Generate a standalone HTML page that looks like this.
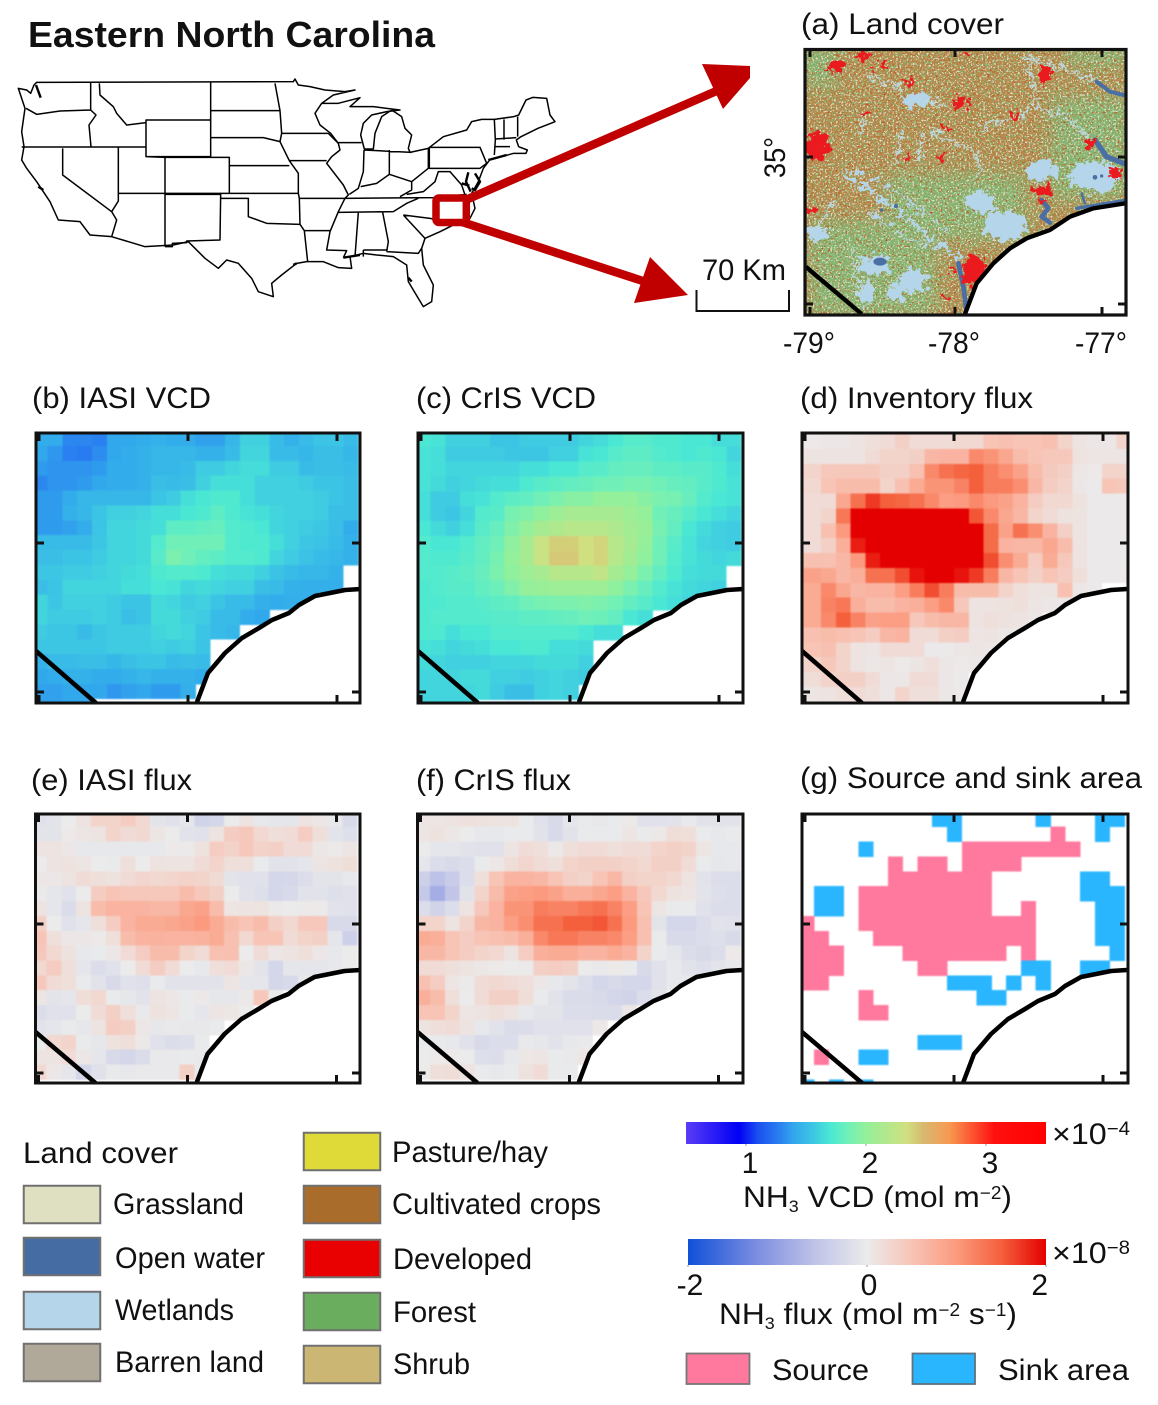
<!DOCTYPE html>
<html lang="en">
<head>
<meta charset="utf-8">
<title>Eastern North Carolina NH3 maps</title>
<style>
html,body{margin:0;padding:0;background:#fff;width:1158px;height:1405px;overflow:hidden}
svg{display:block}
text{font-family:"Liberation Sans",Arial,sans-serif;fill:#111}
.t{font-size:30px}
</style>
</head>
<body>
<svg id="figure" xmlns="http://www.w3.org/2000/svg" width="1158" height="1405" viewBox="0 0 1158 1405">
<defs>
  <filter id="speckGreen" x="0" y="0" width="100%" height="100%" color-interpolation-filters="sRGB">
    <feTurbulence type="fractalNoise" baseFrequency="0.42" numOctaves="2" seed="4"/>
    <feColorMatrix type="matrix" values="0 0 0 0 .50  0 0 0 0 .72  0 0 0 0 .44  10 0 0 0 -5.7"/>
  </filter>
  <filter id="speckPale" x="0" y="0" width="100%" height="100%" color-interpolation-filters="sRGB">
    <feTurbulence type="fractalNoise" baseFrequency="0.55" numOctaves="2" seed="11"/>
    <feColorMatrix type="matrix" values="0 0 0 0 .86  0 0 0 0 .88  0 0 0 0 .78  0 10 0 0 -5.7"/>
  </filter>
  <filter id="speckBrown" x="0" y="0" width="100%" height="100%" color-interpolation-filters="sRGB">
    <feTurbulence type="fractalNoise" baseFrequency="0.42" numOctaves="2" seed="23"/>
    <feColorMatrix type="matrix" values="0 0 0 0 .70  0 0 0 0 .44  0 0 0 0 .20  0 0 10 0 -5.8"/>
  </filter>
  <filter id="speckRed" x="0" y="0" width="100%" height="100%" color-interpolation-filters="sRGB">
    <feTurbulence type="fractalNoise" baseFrequency="0.5" numOctaves="2" seed="37"/>
    <feColorMatrix type="matrix" values="0 0 0 0 .82  0 0 0 0 .22  0 0 0 0 .14  10 0 0 0 -6.9"/>
  </filter>
  <filter id="rough" x="-15%" y="-15%" width="130%" height="130%" color-interpolation-filters="sRGB">
    <feTurbulence type="fractalNoise" baseFrequency="0.05" numOctaves="4" seed="7" result="n"/>
    <feDisplacementMap in="SourceGraphic" in2="n" scale="55" xChannelSelector="R" yChannelSelector="G"/>
  </filter>
  <filter id="soft" x="-20%" y="-20%" width="140%" height="140%" color-interpolation-filters="sRGB"><feGaussianBlur stdDeviation="26"/></filter>
  <filter id="cellBlur" x="-2%" y="-2%" width="104%" height="104%" color-interpolation-filters="sRGB"><feGaussianBlur stdDeviation="0.7"/></filter>
  <clipPath id="clip-a"><rect x="805" y="49" width="321" height="266"/></clipPath>
</defs>

<text x="28" y="47" font-size="36" font-weight="bold" textLength="407" lengthAdjust="spacingAndGlyphs">Eastern North Carolina</text>

<g id="us-map" transform="translate(10 75) scale(0.33333)" fill="none" stroke="#000" stroke-linejoin="round">
  <path vector-effect="non-scaling-stroke" stroke-width="1.5" d="M25,40 L50,45 L62,55 L72,30 L80,22 L850,20 L855,12 L865,30 L900,35 L945,45 L1005,50 L1035,45 L970,60 L935,85 L985,85 L1050,68 L1020,95 L1090,95 L1130,100 L1170,105 L1130,110 L1085,120 L1060,145 L1052,180 L1063,222 L1090,222 L1095,175 L1115,125 L1145,105 L1175,125 L1185,160 L1205,180 L1195,220 L1200,232 L1255,220 L1300,185 L1370,165 L1385,140 L1415,133 L1453,133 L1511,125 L1526,120 L1548,75 L1569,67 L1610,70 L1620,120 L1635,140 L1584,160 L1533,185 L1519,195 L1526,215 L1552,225 L1548,235 L1511,235 L1439,255 L1420,280 L1405,320 L1385,355 L1395,400 L1380,430 L1340,445 L1290,470 L1245,490 L1235,520 L1240,570 L1270,630 L1265,680 L1240,695 L1225,670 L1195,620 L1190,570 L1150,545 L1100,540 L1060,535 L1020,545 L1025,580 L985,578 L940,560 L890,560 L860,565 L815,600 L785,625 L790,665 L745,650 L725,610 L685,565 L650,555 L625,580 L585,550 L535,500 L490,510 L405,515 L305,485 L240,480 L210,440 L145,435 L120,380 L80,320 L50,280 L35,255 L42,215 L35,170 L45,100 Z M935,85 L915,115 L930,150 L962,175 L985,205"/>
  <path vector-effect="non-scaling-stroke" stroke-width="1.5" d="M48,100 L80,118 L150,108 L242,105 M242,22 L242,105 L258,120 L237,150 L243,215 M35,216 L408,216 M268,25 L270,60 L310,95 L320,115 L350,150 L408,143 M408,135 L602,135 L602,245 L408,245 Z M602,22 L602,135 M602,107 L810,107 M602,188 L760,188 L810,200 M795,25 L810,107 L815,175 L810,200 L838,257 L865,295 L865,355 L868,370 M815,175 L955,175 M658,272 L838,272 M602,247 L658,247 L658,355 M465,247 L602,247 M658,355 L865,355 M838,257 L950,257 M325,216 L325,355 L658,355 M408,245 L465,247 L465,515 M158,220 L158,300 L305,410 L325,378 L325,355 M305,410 L320,435 L305,485 M465,358 L632,358 L630,495 L530,498 L530,503 L487,505 L487,515 L465,515 M632,370 L715,370 L715,425 L770,445 L870,448 M868,370 L870,448 L883,467 L960,467 M883,467 L893,560 M868,370 L1005,370 M955,175 L985,205 L990,225 L965,245 L950,265 L1000,330 L1015,360 L1005,370 L985,410 L960,470 L950,525 L1010,527 L1000,548 M985,203 L1055,203 M1062,225 L1060,290 L1045,340 L1018,358 M1062,225 L1205,232 M1138,225 L1138,298 L1100,325 L1052,335 M1255,220 L1255,280 L1205,320 L1138,298 M1005,370 L1270,368 L1370,358 M985,412 L1150,410 L1190,385 L1225,370 M1205,320 L1205,345 L1170,365 M1190,358 L1240,350 L1275,320 L1285,290 L1320,290 L1355,330 L1365,360 M1258,217 L1410,217 L1430,265 L1410,280 L1258,280 Z M1453,133 L1456,195 L1453,240 M1482,133 L1482,195 M1523,125 L1523,185 M1456,192 L1519,188 M1456,215 L1500,215 M1180,420 L1260,430 L1340,445 M1180,420 L1245,490 M1130,530 L1225,535 L1235,520 M1118,412 L1135,500 L1130,530 M1045,412 L1035,545 M1060,525 L1130,525 M1060,525 L1060,545"/>
  <path vector-effect="non-scaling-stroke" stroke-width="2.4" d="M1375,292 L1368,320 L1382,350 M1395,295 L1410,320 L1395,345 L1385,340 M1355,325 L1378,332 M1435,255 L1490,240 M78,30 L92,68 M85,335 L100,345 M1000,548 L1050,540 M860,565 L850,570 M1195,608 L1205,620"/>
</g>

<g id="locator-arrows">
  <line x1="468" y1="199" x2="728" y2="86" stroke="#c00000" stroke-width="8.5"/>
  <polygon points="702,64 750,66 750,78 723,109" fill="#c00000"/>
  <line x1="462" y1="222" x2="652" y2="284" stroke="#c00000" stroke-width="8.5"/>
  <polygon points="650,257 688,295 634,303" fill="#c00000"/>
  <rect x="436" y="198" width="30.3" height="24.5" rx="3" fill="none" stroke="#c00000" stroke-width="7.5"/>
</g>

<text class="t" x="801" y="34" textLength="203" lengthAdjust="spacingAndGlyphs">(a) Land cover</text>
<text class="t" transform="translate(785,178) rotate(-90)" textLength="41" lengthAdjust="spacingAndGlyphs">35°</text>
<text class="t" x="783" y="353" textLength="52" lengthAdjust="spacingAndGlyphs">-79°</text>
<text class="t" x="928" y="353" textLength="52" lengthAdjust="spacingAndGlyphs">-78°</text>
<text class="t" x="1075" y="353" textLength="52" lengthAdjust="spacingAndGlyphs">-77°</text>
<text class="t" x="702" y="280" textLength="84" lengthAdjust="spacingAndGlyphs">70 Km</text>
<path d="M696.5,290 V311 H789 V290" fill="none" stroke="#111" stroke-width="2"/>

<g id="panel-a">
  <g clip-path="url(#clip-a)">
    <rect x="805" y="49" width="321" height="266" fill="#b58a4c"/>
    <g transform="translate(760 0) scale(.33333)">
      <g filter="url(#soft)" fill="#86b572">
        <rect x="120" y="130" width="110" height="130"/>
        <rect x="870" y="290" width="240" height="310"/>
        <rect x="920" y="130" width="190" height="70"/>
        <rect x="150" y="660" width="380" height="290"/>
        <rect x="500" y="520" width="300" height="200"/>
        <rect x="380" y="520" width="120" height="150"/>
      </g>
    </g>
    <rect x="805" y="49" width="321" height="266" filter="url(#speckBrown)"/>
    <rect x="805" y="49" width="321" height="266" filter="url(#speckGreen)"/>
    <rect x="805" y="49" width="321" height="266" filter="url(#speckRed)"/>
    <rect x="805" y="49" width="321" height="266" filter="url(#speckPale)"/>
    <g transform="translate(760 0) scale(.33333)">
      <g fill="#b5d5ea" filter="url(#rough)">
        <ellipse cx="470" cy="300" rx="48" ry="18"/>
        <ellipse cx="845" cy="510" rx="44" ry="32"/>
        <ellipse cx="1005" cy="530" rx="76" ry="46"/>
        <ellipse cx="660" cy="608" rx="44" ry="30"/>
        <ellipse cx="735" cy="678" rx="66" ry="46"/>
        <ellipse cx="460" cy="842" rx="40" ry="36"/>
        <ellipse cx="408" cy="880" rx="26" ry="28"/>
        <ellipse cx="345" cy="795" rx="50" ry="30"/>
        <ellipse cx="172" cy="700" rx="30" ry="20"/>
        <ellipse cx="320" cy="880" rx="20" ry="36"/>
        <path fill="none" stroke="#b5d5ea" stroke-width="14" stroke-dasharray="46 12" d="M255,520 L400,620 L500,705 L610,775"/>
        <path fill="none" stroke="#b5d5ea" stroke-width="8" stroke-dasharray="30 14" d="M290,510 L430,590 L560,700"/>
        <path fill="none" stroke="#b5d5ea" stroke-width="9" stroke-dasharray="34 10" d="M330,640 L450,720 L560,750"/>
      </g>
      <g fill="none" stroke="#bcd8de" stroke-linecap="round" stroke-linejoin="round" filter="url(#rough)">
        <path stroke-width="7" d="M800,170 L830,300 L780,350 L660,380 M830,320 L910,345 L985,410 M510,390 L650,460 L660,530 M420,400 L415,480 M490,400 L480,480 M800,170 L1000,240 M430,270 L330,230 M310,340 L300,400 M230,600 L160,700 M270,730 L300,880 M560,320 L480,300"/>
      </g>
      <g fill="none" stroke="#4a6fa5" stroke-linecap="round" stroke-linejoin="round">
        <path stroke-width="12" d="M1010,245 L1050,275 L1090,285"/>
        <path stroke-width="16" d="M1005,420 L1040,470 L1090,490"/>
        <path stroke-width="14" d="M845,600 L865,625 L845,650 L870,668"/>
        <path stroke-width="14" d="M595,790 L610,860 L620,935"/>
        <path stroke-width="7" d="M965,580 L975,610"/>
        <path stroke-width="10" d="M950,625 L1090,602"/>
      </g>
      <g fill="#4a6fa5">
        <ellipse cx="360" cy="785" rx="20" ry="12"/>
        <circle cx="1005" cy="532" r="7"/>
        <circle cx="1025" cy="528" r="5"/>
        <circle cx="408" cy="618" r="6"/>
        <circle cx="365" cy="630" r="5"/>
      </g>
      <g fill="#ea1a1e" filter="url(#rough)">
        <ellipse cx="172" cy="440" rx="36" ry="44"/>
        <ellipse cx="645" cy="815" rx="40" ry="44"/>
        <ellipse cx="855" cy="222" rx="24" ry="24"/>
        <ellipse cx="600" cy="308" rx="24" ry="18"/>
        <ellipse cx="765" cy="352" rx="16" ry="13"/>
        <ellipse cx="987" cy="430" rx="18" ry="15"/>
        <ellipse cx="848" cy="578" rx="28" ry="22"/>
        <ellipse cx="1067" cy="520" rx="14" ry="13"/>
        <ellipse cx="228" cy="202" rx="20" ry="18"/>
        <ellipse cx="310" cy="165" rx="15" ry="9"/>
        <ellipse cx="372" cy="190" rx="13" ry="9"/>
        <ellipse cx="440" cy="475" rx="12" ry="9"/>
        <ellipse cx="545" cy="475" rx="8" ry="8"/>
        <ellipse cx="315" cy="340" rx="13" ry="8"/>
        <ellipse cx="150" cy="632" rx="9" ry="13"/>
        <ellipse cx="448" cy="245" rx="16" ry="8"/>
        <ellipse cx="620" cy="160" rx="13" ry="8"/>
        <ellipse cx="555" cy="385" rx="8" ry="8"/>
        <ellipse cx="575" cy="810" rx="13" ry="8"/>
        <ellipse cx="345" cy="212" rx="9" ry="9"/>
        <ellipse cx="565" cy="895" rx="8" ry="9"/>
      </g>
    </g>
  </g>
  <g transform="translate(760 0) scale(.33333)">
    <path fill="#fff" d="M615,942 L650,850 L700,790 L750,745 L800,715 L870,690 L930,650 L1000,625 L1095,610 V942 Z"/>
    <path fill="none" stroke="#000" stroke-width="13" stroke-linejoin="round" d="M615,942 L650,850 L700,790 L750,745 L800,715 L870,690 L930,650 L1000,625 L1095,610"/>
    <path fill="none" stroke="#000" stroke-width="13" d="M137,800 L305,942"/>
  </g>
  <rect x="805" y="49.5" width="321" height="265.5" fill="none" stroke="#111" stroke-width="3.2"/>
  <path stroke="#111" stroke-width="3" fill="none" d="M955,49 v8 M1102,49 v8 M955,315 v-8 M1102,315 v-8 M810,49 v8 M810,315 v-8 M805,157 h8 M1126,157 h-8 M805,304 h8 M1126,304 h-8"/>
</g>

<g id="panels"></g>
<g id="legend-land-cover"></g>
<g id="colorbars"></g>

<text class="t" x="32" y="408" textLength="179" lengthAdjust="spacingAndGlyphs">(b) IASI VCD</text>
<text class="t" x="416" y="408" textLength="180" lengthAdjust="spacingAndGlyphs">(c) CrIS VCD</text>
<text class="t" x="800" y="408" textLength="233" lengthAdjust="spacingAndGlyphs">(d) Inventory flux</text>
<text class="t" x="31" y="790" textLength="161" lengthAdjust="spacingAndGlyphs">(e) IASI flux</text>
<text class="t" x="416" y="790" textLength="155" lengthAdjust="spacingAndGlyphs">(f) CrIS flux</text>
<text class="t" x="800" y="788" textLength="342" lengthAdjust="spacingAndGlyphs">(g) Source and sink area</text>

<text class="t" x="1052" y="1144" textLength="78" lengthAdjust="spacingAndGlyphs">×10<tspan dy="-9" font-size="19">−4</tspan></text>
<text class="t" x="743" y="1207" textLength="269" lengthAdjust="spacingAndGlyphs">NH<tspan dy="5" font-size="17">3</tspan><tspan dy="-5"> VCD (mol m</tspan><tspan dy="-8" font-size="18">−2</tspan><tspan dy="8">)</tspan></text>
<text class="t" x="1052" y="1263" textLength="78" lengthAdjust="spacingAndGlyphs">×10<tspan dy="-9" font-size="19">−8</tspan></text>
<text class="t" x="719" y="1324" textLength="298" lengthAdjust="spacingAndGlyphs">NH<tspan dy="5" font-size="17">3</tspan><tspan dy="-5"> flux (mol m</tspan><tspan dy="-8" font-size="18">−2</tspan><tspan dy="8"> s</tspan><tspan dy="-8" font-size="18">−1</tspan><tspan dy="8">)</tspan></text>
<rect x="686.5" y="1353.5" width="63" height="30.5" fill="#ff799f" stroke="#777" stroke-width="1.8"/>
<text class="t" x="772" y="1380" textLength="97" lengthAdjust="spacingAndGlyphs">Source</text>
<rect x="912.5" y="1353.5" width="62.5" height="30.5" fill="#29b6fe" stroke="#5f7280" stroke-width="1.8"/>
<text class="t" x="998" y="1380" textLength="131" lengthAdjust="spacingAndGlyphs">Sink area</text>

<script>
// ---- Data. Columns run west to east, rows north to south; null or a short row means no retrieval (ocean). ----
const iasiVcd = [
[1.42,1.42,1.3,1.3,1.28,1.4,1.4,1.42,1.45,1.42,1.42,1.38,1.38,1.48,1.6,1.6,1.5,1.45,1.5,1.55,1.55,1.5],
[1.4,1.35,1.28,1.26,1.32,1.4,1.42,1.45,1.48,1.48,1.48,1.45,1.45,1.5,1.62,1.62,1.5,1.5,1.48,1.52,1.52,1.48],
[1.36,1.34,1.34,1.34,1.36,1.42,1.42,1.45,1.48,1.48,1.5,1.58,1.58,1.62,1.65,1.65,1.58,1.58,1.5,1.52,1.52,1.5],
[1.3,1.34,1.34,1.36,1.4,1.42,1.42,1.45,1.52,1.5,1.52,1.6,1.66,1.66,1.66,1.6,1.6,1.6,1.58,1.55,1.55,1.52],
[1.36,1.36,1.42,1.48,1.48,1.48,1.48,1.48,1.55,1.58,1.66,1.7,1.72,1.72,1.66,1.6,1.6,1.6,1.6,1.58,1.55,1.52],
[1.36,1.36,1.45,1.48,1.55,1.6,1.6,1.62,1.66,1.66,1.7,1.72,1.78,1.72,1.68,1.66,1.62,1.6,1.6,1.58,1.52,1.52],
[1.36,1.36,1.38,1.42,1.55,1.62,1.62,1.64,1.66,1.78,1.78,1.8,1.82,1.74,1.72,1.7,1.62,1.6,1.58,1.56,1.52,1.42],
[1.5,1.5,1.5,1.5,1.56,1.62,1.62,1.64,1.74,1.85,1.85,1.85,1.85,1.74,1.72,1.72,1.66,1.6,1.56,1.54,1.5,1.45],
[1.52,1.52,1.55,1.55,1.58,1.62,1.62,1.64,1.76,1.9,1.85,1.8,1.78,1.74,1.74,1.72,1.62,1.58,1.54,1.5,1.48,1.45],
[1.56,1.56,1.58,1.58,1.6,1.62,1.64,1.66,1.72,1.74,1.74,1.72,1.66,1.64,1.64,1.6,1.54,1.5,1.48,1.48,1.45,null],
[1.52,1.55,1.62,1.62,1.62,1.62,1.66,1.66,1.7,1.68,1.62,1.64,1.62,1.6,1.6,1.52,1.5,1.45,1.44,1.44,1.44,null],
[1.62,1.56,1.6,1.6,1.6,1.58,1.55,1.55,1.64,1.62,1.58,1.6,1.55,1.5,1.5,1.44,1.42,1.44,1.44],
[1.62,1.58,1.58,1.58,1.6,1.58,1.52,1.55,1.64,1.64,1.6,1.58,1.5,1.5,1.42,1.4,null],
[1.58,1.56,1.56,1.5,1.56,1.58,1.58,1.58,1.62,1.64,1.62,1.55,1.5,1.48,null],
[1.56,1.56,1.56,1.56,1.56,1.58,1.58,1.58,1.6,1.58,1.6,1.55,null],
[1.45,1.5,1.5,1.52,1.52,1.48,1.52,1.55,1.55,1.5,1.52,1.5,null],
[1.4,1.42,1.45,1.45,1.42,1.42,1.45,1.48,1.45,1.45,1.45,1.42,null],
[1.38,1.38,1.4,1.4,1.4,1.35,1.38,1.4,1.36,1.36,1.44,null],
[1.38,1.38,1.4,1.4]
];
const crisVcd = [
[1.7,1.68,1.6,1.6,1.6,1.55,1.55,1.58,1.58,1.58,1.58,1.62,1.65,1.7,1.75,1.75,1.72,1.72,1.7,1.7,1.65,1.65],
[1.68,1.66,1.58,1.58,1.58,1.58,1.56,1.56,1.56,1.6,1.6,1.68,1.7,1.75,1.78,1.78,1.74,1.72,1.7,1.72,1.7,1.62],
[1.68,1.66,1.62,1.62,1.62,1.62,1.62,1.66,1.66,1.7,1.7,1.75,1.76,1.8,1.82,1.82,1.78,1.78,1.76,1.76,1.72,1.66],
[1.68,1.64,1.6,1.62,1.64,1.66,1.66,1.72,1.76,1.78,1.8,1.82,1.85,1.85,1.88,1.88,1.85,1.82,1.8,1.76,1.72,1.68],
[1.66,1.58,1.58,1.66,1.68,1.74,1.78,1.8,1.85,1.9,1.95,1.95,2.0,2.0,2.0,1.95,1.9,1.88,1.82,1.74,1.7,1.68],
[1.66,1.58,1.56,1.62,1.74,1.76,1.88,1.92,1.98,2.05,2.1,2.1,2.1,2.1,2.05,2.0,1.85,1.82,1.76,1.7,1.66,1.62],
[1.7,1.64,1.6,1.66,1.76,1.82,1.92,2.0,2.1,2.15,2.2,2.2,2.2,2.15,2.08,2.02,1.88,1.8,1.7,1.64,1.6,1.58],
[1.74,1.7,1.7,1.74,1.8,1.85,1.98,2.1,2.3,2.4,2.4,2.34,2.38,2.2,2.1,2.0,1.85,1.76,1.68,1.62,1.6,1.58],
[1.74,1.72,1.72,1.76,1.8,1.88,2.0,2.1,2.3,2.42,2.42,2.34,2.38,2.2,2.08,1.98,1.85,1.74,1.68,1.64,1.62,1.64],
[1.74,1.74,1.76,1.78,1.82,1.9,1.98,2.05,2.1,2.2,2.2,2.2,2.25,2.1,2.0,1.9,1.8,1.72,1.66,1.64,1.64,null],
[1.72,1.74,1.76,1.76,1.8,1.84,1.92,2.0,2.02,2.05,2.05,2.05,2.05,1.98,1.9,1.82,1.74,1.68,1.64,1.62,1.6,null],
[1.72,1.72,1.74,1.74,1.76,1.78,1.8,1.85,1.88,1.9,1.9,1.92,1.9,1.86,1.8,1.76,1.7,1.66,1.62],
[1.72,1.74,1.74,1.74,1.74,1.76,1.76,1.78,1.78,1.8,1.82,1.85,1.84,1.8,1.7,1.66,null],
[1.72,1.72,1.66,1.7,1.7,1.74,1.74,1.74,1.74,1.74,1.74,1.7,1.66,1.66,null],
[1.68,1.66,1.62,1.64,1.66,1.7,1.7,1.72,1.72,1.66,1.66,1.64,null],
[1.64,1.62,1.6,1.6,1.6,1.62,1.62,1.62,1.64,1.64,1.64,1.6,null],
[1.62,1.62,1.62,1.64,1.64,1.6,1.6,1.58,1.6,1.62,1.6,1.58,null],
[1.62,1.62,1.62,1.62,1.64,1.58,1.52,1.52,1.6,1.62,1.6,null],
[1.62,1.62,1.62,1.62]
];
const inventoryFlux = [
[.03,.05,.05,.1,.15,.2,.35,.2,.2,.2,.25,.25,.5,.55,.5,.5,.55,.3,.1,.05,.05,.3],
[.1,.1,.1,.1,.2,.3,.3,.35,.65,.7,.7,1.15,1.05,.85,.6,.5,.45,.45,.12,.08,.08,.08],
[.3,.45,.45,.45,.45,.35,.35,.55,1.15,1.35,1.45,1.5,1.25,1.1,.9,.6,.42,.35,.06,.03,.3,.3],
[.25,.5,.6,.6,.6,.3,.55,.8,1.05,1.05,1.2,1.5,1.25,1.25,1.1,.65,.4,.3,.05,.02,.5,.45],
[.2,.2,.85,1.35,1.7,1.5,1.45,1.35,1.15,.95,1.0,1.15,1.0,.9,.7,.4,.25,.25,.12,.02,.02,.03],
[.2,.3,1.3,2,2,2,2,2,2,2,2,1.55,1.15,.85,.65,.3,.2,.12,.1,.02,.02,.03],
[.2,.55,1.0,2,2,2,2,2,2,2,2,2,1.4,.9,1.35,1.1,.7,.35,.1,.02,.02,.03],
[.2,.35,.75,1.85,2,2,2,2,2,2,2,2,1.4,.7,.65,.65,.85,.6,.1,.02,.02,.02],
[.55,.55,.65,1.0,1.85,2,2,2,2,2,2,2,1.6,1.1,.8,.4,.8,.45,.1,.02,.02,.02],
[.9,.85,.65,.75,1.35,1.35,1.6,1.9,2,2,1.9,1.7,1.25,.65,.5,.35,.5,.4,.15,.02,.02,.03],
[.8,1.15,.85,.65,.7,.7,.95,1.25,1.6,1.25,.6,.6,.6,.3,.15,.1,.1,.55,.05,.02],
[.8,1.2,1.3,.75,.6,.6,.7,.75,.95,1.15,.45,.1,.1,.12,.15,.08,.05,.05],
[.8,1.15,1.5,1.2,.9,.95,.95,.45,.6,.65,.65,.1,.15,.12,.1,.05],
[.55,.6,.55,.5,.4,.65,.7,.2,.2,.35,.4,.08,.1,.05,.03],
[.5,.55,.3,.1,.08,.2,.2,.2,.02,.02,.05,.08,.05],
[.3,.45,.3,.1,.05,.08,.03,.08,.15,.05,.03,.05],
[.18,.3,.35,.35,.2,.05,.05,.2,.2,.05,.02],
[.08,.1,.15,.2,.15,.05,.3,.15,.15,.05,.03]
];
const iasiFlux = [
[-.15,-.1,0,.1,.3,.3,.4,.25,-.1,-.15,-.08,-.35,-.3,0,.1,-.05,-.08,-.08,.1,.05,-.05,-.25],
[-.1,-.1,.03,.08,.1,.3,.2,.25,.08,0,-.12,-.15,.1,.4,.45,.25,.15,.2,.4,.15,-.1,-.18],
[.1,.1,.05,-.05,-.05,-.05,-.05,-.05,-.05,.03,.02,.12,.4,.32,.45,.32,.35,.2,.2,.05,.02,.08],
[0,.1,.12,.08,0,-.02,.15,0,.12,.1,.1,.2,.3,.15,.15,-.02,-.12,-.12,-.08,.08,.12,.18],
[.05,.05,.1,.2,.15,.12,.2,.28,.25,.28,.32,.3,.22,-.1,-.15,-.15,-.3,-.28,-.2,-.1,-.1,-.05],
[.02,-.08,-.15,0,.4,.5,.45,.45,.45,.45,.6,.45,.35,0,-.12,-.18,-.3,-.25,-.12,-.12,-.18,-.15],
[.1,-.08,-.22,.1,.6,.7,.7,.7,.65,.65,.85,.9,.6,.08,.1,.1,.02,0,.02,.03,-.12,-.15],
[.35,0,-.15,-.08,.15,.4,.7,.8,.8,.85,.9,1.0,.8,.6,.5,.6,.35,.25,.45,.45,-.25,-.25],
[.5,.15,.05,.05,.03,.15,.6,.7,.72,.7,.7,.72,.8,.55,.25,.5,.5,.2,.3,.35,-.08,-.4],
[.45,.25,.12,-.05,-.02,.05,.2,.4,.6,.6,.3,.2,.55,.55,0,.2,.05,.1,.15,.05,-.05,0],
[.25,.4,.15,-.08,-.2,-.15,0,.2,.4,.2,0,-.05,.15,.2,.05,-.1,-.3,-.08,-.08,-.08,-.05,0],
[.45,.2,.15,-.02,-.12,-.25,-.15,-.18,-.02,-.12,-.12,-.12,-.12,.08,-.08,-.08,-.3,-.25,-.05],
[.08,-.1,-.08,.18,.25,-.02,-.06,-.12,.1,.05,-.02,.04,-.06,-.06,.04,.45,0],
[-.2,-.15,-.15,0,.2,.35,.15,-.03,.12,.08,-.02,-.08,.08,.06,0],
[-.12,-.08,-.02,-.06,.1,.4,.35,.05,-.06,-.03,-.04,-.04,-.02],
[-.02,.25,.3,-.02,-.06,.12,.15,.04,-.15,-.2,-.18,-.02],
[.1,.1,.2,.05,-.08,-.25,-.3,-.22,-.03,-.03,-.02,-.03],
[.25,.05,-.08,-.3,-.15,-.03,-.05,-.03,-.03,-.03,.35,-.02]
];
const crisFlux = [
[.08,.08,.1,.14,.12,.1,.1,-.02,-.15,-.25,-.08,-.02,-.04,-.02,.03,-.14,-.15,-.12,-.03,-.12,-.12,-.12],
[.08,.12,.05,0,-.05,-.05,-.02,-.02,-.12,-.25,-.12,-.02,-.02,-.02,.08,-.02,.04,.18,.15,-.02,-.05,-.02],
[0,-.08,-.08,-.12,-.15,-.15,.08,.2,.15,.04,.15,.2,.2,.15,.2,.2,.3,.35,.3,.08,-.05,-.05],
[-.08,-.2,-.25,-.2,-.02,.05,.18,.28,.2,.15,.3,.35,.35,.35,.3,.25,.35,.35,.2,-.02,-.06,-.05],
[-.4,-.6,-.45,-.2,.15,.5,.7,.7,.65,.5,.35,.3,.5,.65,.35,.3,.3,.25,.1,-.12,-.2,-.2],
[-.5,-.85,-.55,-.12,.3,.6,.9,.95,1.0,.9,.75,.75,.85,.95,.7,.45,.25,.12,.08,-.1,-.18,-.2],
[-.2,-.35,-.2,.1,.45,.7,1.05,1.05,1.25,1.2,1.2,1.3,1.35,1.2,.95,.5,.08,-.02,-.02,-.15,-.2,-.2],
[.3,.3,.1,.3,.65,.7,.95,1.1,1.35,1.35,1.5,1.5,1.55,1.35,1.0,.55,-.1,-.3,-.3,-.2,-.12,-.15],
[.8,.75,.5,.4,.5,.55,.6,.75,1.15,1.3,1.3,1.2,1.2,1.15,.95,.55,-.02,-.25,-.25,-.2,-.18,-.25],
[.65,.65,.5,.4,.3,.25,.1,.4,.75,.8,.8,.7,.7,.8,.7,.3,-.02,-.08,-.2,-.25,-.2,.03],
[.2,.2,.15,.1,.05,.03,0,.02,.35,.4,.35,0,-.03,.03,-.02,-.25,-.15,-.05,-.12,-.18,-.1,-.05],
[.55,.4,.08,.02,.2,.25,.2,.15,.05,-.05,-.1,-.2,-.3,-.25,-.3,-.3,-.15,-.05,-.05],
[.75,.6,.15,0,.2,.35,.35,.18,-.02,-.12,-.22,-.22,-.25,-.32,-.35,-.2,-.1],
[.5,.5,.3,.08,.1,.15,.1,-.05,-.1,-.1,-.2,-.2,-.22,-.22,.05],
[.1,.15,.2,.1,-.05,-.12,-.22,-.2,-.15,-.15,-.15,-.15,.04],
[-.02,-.02,-.05,-.15,-.25,-.2,-.2,-.03,-.06,-.12,-.05,-.03],
[0,.03,.03,0,-.18,-.2,-.05,.06,.08,-.02,-.03,.08],
[0,.15,.18,.1,-.02,-.05,-.02,.12,.2,-.02,-.02]
];
// 1 = source, -1 = sink, 0 = neither
const sourceSinkClass = [
[0,0,0,0,0,0,0,0,0,-1,-1,0,0,0,0,0,-1,0,0,0,-1,-1],
[0,0,0,0,0,0,0,0,0,0,-1,0,0,0,0,0,0,1,0,0,-1,0],
[0,0,0,0,-1,0,0,0,0,0,0,1,1,1,1,1,1,1,1,0,0,0],
[0,0,0,0,0,0,1,0,1,1,0,1,1,1,1,0,0,0,0,0,0,0],
[0,0,0,0,0,0,1,1,1,1,1,1,1,0,0,0,0,0,0,-1,-1,0],
[0,-1,-1,0,1,1,1,1,1,1,1,1,1,0,0,0,0,0,0,-1,-1,-1],
[0,-1,-1,0,1,1,1,1,1,1,1,1,1,0,0,1,0,0,0,0,-1,-1],
[1,0,0,0,1,1,1,1,1,1,1,1,1,1,1,1,0,0,0,0,-1,-1],
[1,1,0,0,0,1,1,1,1,1,1,1,1,1,1,1,0,0,0,0,-1,-1],
[1,1,1,0,0,0,0,1,1,1,1,1,1,1,0,1,0,0,0,0,0,-1],
[1,1,1,0,0,0,0,0,1,1,0,0,0,0,0,-1,-1,0,0,-1,-1,0],
[1,1,0,0,0,0,0,0,0,0,-1,-1,-1,0,-1,0,-1,0,0,0,0,0],
[0,0,0,0,1,0,0,0,0,0,0,0,-1,-1,0,0,0,0,0,0,0,0],
[0,0,0,0,1,1,0,0,0,0,0,0,0,0,0,0,0,0,0,0,0,0],
[0,0,0,0,0,0,0,0,0,0,0,0,0,0,0,0,0,0,0,0,0,0],
[0,0,0,0,0,0,0,0,-1,-1,-1,0,0,0,0,0,0,0,0,0,0,0],
[0,1,0,0,-1,-1,0,0,0,0,0,0,0,0,0,0,0,0,0,0,0,0],
[0,0,0,0,0,0,0,0,0,0,0,0,0,0,0,0,0,0,0,0,0,0],
[-1,0,-1,0,-1,0,0,0,0,0,0,0,0,0,0,0,0,0,0,0,0,0]
];
const vcdTickValues = [1, 2, 3];
const vcdTickLabels = ["1", "2", "3"];
const fluxTickValues = [-2, 0, 2];
const fluxTickLabels = ["-2", "0", "2"];
const landCoverClasses = ["Grassland","Open water","Wetlands","Barren land","Pasture/hay","Cultivated crops","Developed","Forest","Shrub"];

// ---- Colour scales ----
const vcdDomain = [0.5, 3.5];
const vcdStopValues = [0.5, 0.94, 1.1, 1.28, 1.4, 1.55, 1.7, 1.85, 2.0, 2.34, 2.48, 2.7, 3.07, 3.5];
const vcdStopColors = ["#5a3cf5","#0000f5","#1a50f0","#2a80f0","#32a8ec","#3cc4e4","#4ae8d4","#70f0b8","#94f09a","#d0e080","#d8b870","#f89850","#ff1010","#ff0000"];
const fluxDomain = [-2, 2];
const fluxStopValues = [-2, -1.2, -0.57, 0, 0.5, 1, 1.5, 2];
const fluxStopColors = ["#1050d8","#8090e0","#c0c4e8","#ebebeb","#f7c4b6","#fb9a7e","#f4603c","#e40000"];

const SVGNS = "http://www.w3.org/2000/svg";
function hexToRgb(h){return [1,3,5].map(i=>parseInt(h.substr(i,2),16));}
function colorScale(values, colors){
  return function(v){
    if (v <= values[0]) return colors[0];
    for (let i = 1; i < values.length; i++){
      if (v <= values[i]){
        const t = (v - values[i-1]) / (values[i] - values[i-1]);
        const a = hexToRgb(colors[i-1]), b = hexToRgb(colors[i]);
        return "rgb(" + a.map((c,k)=>Math.round(c + (b[k]-c)*t)).join(",") + ")";
      }
    }
    return colors[colors.length-1];
  };
}
const vcdColor = colorScale(vcdStopValues, vcdStopColors);
const fluxColor = colorScale(fluxStopValues, fluxStopColors);
function classColor(v){ return v > 0 ? "#ff799f" : v < 0 ? "#29b6fe" : null; }

// ---- Panels ----
const CELL_W = 14.78, CELL_H = 14.87;
const coastFractions = [[161,269],[172,240],[178,233],[189,220],[206,205],[223,195],[236,187],[253,180],[263,172],[279,163],[309,157],[325,156]];
const panels = [
  {id:"iasi-vcd", grid:iasiVcd, color:vcdColor, left:36, top:433, right:360, bottom:703, firstX:47.67, firstY:446},
  {id:"cris-vcd", grid:crisVcd, color:vcdColor, left:418, top:433, right:743, bottom:703, firstX:430.67, firstY:446.67},
  {id:"inventory-flux", grid:inventoryFlux, color:fluxColor, left:802, top:433, right:1128, bottom:703, firstX:821, firstY:449},
  {id:"iasi-flux", grid:iasiFlux, color:fluxColor, left:35.5, top:814, right:360, bottom:1083, firstX:46.67, firstY:826.67},
  {id:"cris-flux", grid:crisFlux, color:fluxColor, left:417.5, top:814, right:743, bottom:1083, firstX:430, firstY:826.67},
  {id:"source-sink", grid:sourceSinkClass, color:classColor, left:802, top:814, right:1128, bottom:1083, firstX:814, firstY:826.67}
];
const panelsRoot = document.getElementById("panels");
const defs = document.querySelector("defs");

panels.forEach(function(p){
  const xScale = function(col){ return col === 0 ? p.left : p.firstX + (col-1)*CELL_W; };
  const xEnd = function(col){ return p.firstX + col*CELL_W; };
  const yScale = function(row){ return row === 0 ? p.top : p.firstY + (row-1)*CELL_H; };
  const yEnd = function(row){ return p.firstY + row*CELL_H; };

  const clip = document.createElementNS(SVGNS, "clipPath");
  clip.setAttribute("id", "clip-" + p.id);
  const clipRect = document.createElementNS(SVGNS, "rect");
  clipRect.setAttribute("x", p.left);
  clipRect.setAttribute("y", p.top);
  clipRect.setAttribute("width", p.right - p.left);
  clipRect.setAttribute("height", p.bottom - p.top);
  clip.appendChild(clipRect);
  defs.appendChild(clip);

  const g = document.createElementNS(SVGNS, "g");
  
  
  panelsRoot.appendChild(g);

  const clipG = document.createElementNS(SVGNS, "g");
  
  
  clipG.setAttribute("clip-path", "url(#clip-" + p.id + ")");
  g.appendChild(clipG);

  const cells = document.createElementNS(SVGNS, "g");
  
  
  cells.setAttribute("filter", "url(#cellBlur)");
  cells.setAttribute("shape-rendering", "crispEdges");
  clipG.appendChild(cells);

  p.grid.forEach(function(rowVals, r){
    rowVals.forEach(function(v, c){
      if (v === null) return;
      const fill = p.color(v);
      if (!fill) return;
      const cell = document.createElementNS(SVGNS, "rect");
      
      
      const x0 = xScale(c), y0 = yScale(r);
      cell.setAttribute("x", x0.toFixed(2));
      cell.setAttribute("y", y0.toFixed(2));
      cell.setAttribute("width", (xEnd(c) - x0 + 0.4).toFixed(2));
      cell.setAttribute("height", (yEnd(r) - y0 + 0.4).toFixed(2));
      cell.setAttribute("fill", fill);
      cells.appendChild(cell);
    });
  });

  const coastPts = coastFractions.map(function(q){ return (p.left + q[0]) + "," + Math.min(p.top + q[1], p.bottom); });
  const ocean = document.createElementNS(SVGNS, "polygon");
  
  
  ocean.setAttribute("points", coastPts.join(" ") + " " + p.right + "," + p.bottom);
  ocean.setAttribute("fill", "#fff");
  g.appendChild(ocean);

  const coast = document.createElementNS(SVGNS, "polyline");
  
  
  coast.setAttribute("points", coastPts.join(" "));
  coast.setAttribute("fill", "none");
  coast.setAttribute("stroke", "#000");
  coast.setAttribute("stroke-width", "4.5");
  coast.setAttribute("stroke-linejoin", "round");
  g.appendChild(coast);

  const stateLine = document.createElementNS(SVGNS, "line");
  
  
  stateLine.setAttribute("x1", p.left);
  stateLine.setAttribute("y1", p.top + 218);
  stateLine.setAttribute("x2", p.left + 60);
  stateLine.setAttribute("y2", p.bottom);
  stateLine.setAttribute("stroke", "#000");
  stateLine.setAttribute("stroke-width", "4.5");
  g.appendChild(stateLine);

  const frame = document.createElementNS(SVGNS, "rect");
  
  
  frame.setAttribute("x", p.left);
  frame.setAttribute("y", p.top);
  frame.setAttribute("width", p.right - p.left);
  frame.setAttribute("height", p.bottom - p.top);
  frame.setAttribute("fill", "none");
  frame.setAttribute("stroke", "#111");
  frame.setAttribute("stroke-width", "3");
  g.appendChild(frame);

  const tx = [p.left + 3, p.left + 152, p.left + 301];
  const ty = [p.top + 110, p.top + 259];
  let d = "";
  tx.forEach(function(x){ d += "M" + x + "," + p.top + "v8M" + x + "," + p.bottom + "v-8"; });
  ty.forEach(function(y){ d += "M" + p.left + "," + y + "h8M" + p.right + "," + y + "h-8"; });
  const ticks = document.createElementNS(SVGNS, "path");
  
  
  ticks.setAttribute("d", d);
  ticks.setAttribute("stroke", "#111");
  ticks.setAttribute("stroke-width", "3");
  ticks.setAttribute("fill", "none");
  g.appendChild(ticks);
});

// ---- Colour bars ----
function addGradient(id, values, colors, domain){
  const lg = document.createElementNS(SVGNS, "linearGradient");
  lg.setAttribute("id", id);
  values.forEach(function(v, i){
    const s = document.createElementNS(SVGNS, "stop");
    s.setAttribute("offset", (v - domain[0]) / (domain[1] - domain[0]));
    s.setAttribute("stop-color", colors[i]);
    lg.appendChild(s);
  });
  defs.appendChild(lg);
}
addGradient("vcd-gradient", vcdStopValues, vcdStopColors, vcdDomain);
addGradient("flux-gradient", fluxStopValues, fluxStopColors, fluxDomain);
const barsRoot = document.getElementById("colorbars");

function drawBar(name, gradient, domain, tickValues, tickLabels, box, labelY, labelShift){
  const xScale = function(v){ return box.x + (v - domain[0]) / (domain[1] - domain[0]) * box.w; };
  const bar = document.createElementNS(SVGNS, "rect");
  
  
  bar.setAttribute("x", box.x);
  bar.setAttribute("y", box.y);
  bar.setAttribute("width", box.w);
  bar.setAttribute("height", box.h);
  bar.setAttribute("fill", "url(#" + gradient + ")");
  barsRoot.appendChild(bar);
  tickValues.forEach(function(v, i){
    const tick = document.createElementNS(SVGNS, "line");
    
    
    tick.setAttribute("x1", xScale(v));
    tick.setAttribute("x2", xScale(v));
    tick.setAttribute("y1", box.y + box.h);
    tick.setAttribute("y2", box.y + box.h + 2);
    tick.setAttribute("stroke", "#999");
    barsRoot.appendChild(tick);
    const label = document.createElementNS(SVGNS, "text");
    
    
    label.setAttribute("x", xScale(v) + labelShift);
    label.setAttribute("y", labelY);
    label.setAttribute("class", "t");
    label.setAttribute("text-anchor", v === domain[1] && name === "flux" ? "end" : "middle");
    label.textContent = tickLabels[i];
    barsRoot.appendChild(label);
  });
}
drawBar("vcd", "vcd-gradient", vcdDomain, vcdTickValues, vcdTickLabels, {x:686, y:1122, w:360, h:22}, 1173, 4);
drawBar("flux", "flux-gradient", fluxDomain, fluxTickValues, fluxTickLabels, {x:688, y:1239, w:358, h:26}, 1295, 2);

// ---- Land cover legend ----
const landCoverColors = ["#dfe0c2","#456da3","#b5d5ea","#b0a999","#e0da38","#aa6c2a","#e90000","#6aad5e","#ccb674"];
const legendSwatchX = [23,23,23,23,303,303,303,303,303];
const legendSwatchY = [1185,1237,1291,1343,1132,1185,1239,1292,1345];
const legendTextX = [113,115,115,115,392,392,393,393,393];
const legendTextY = [1214,1268,1320,1372,1162,1214,1269,1322,1374];
const legendTextW = [131,150,119,149,156,209,139,83,77];
const legendRoot = document.getElementById("legend-land-cover");
const legendHead = document.createElementNS(SVGNS, "text");


legendHead.setAttribute("class", "t");
legendHead.setAttribute("x", "23");
legendHead.setAttribute("y", "1163");
legendHead.setAttribute("textLength", "155");
legendHead.setAttribute("lengthAdjust", "spacingAndGlyphs");
legendHead.textContent = "Land cover";
legendRoot.appendChild(legendHead);
landCoverClasses.forEach(function(name, i){
  const sw = document.createElementNS(SVGNS, "rect");
  
  
  sw.setAttribute("x", legendSwatchX[i] + 0.75);
  sw.setAttribute("y", legendSwatchY[i] + 0.75);
  sw.setAttribute("width", "76.5");
  sw.setAttribute("height", "37.5");
  sw.setAttribute("fill", landCoverColors[i]);
  sw.setAttribute("stroke", "#707070");
  sw.setAttribute("stroke-width", "2");
  legendRoot.appendChild(sw);
  const tx = document.createElementNS(SVGNS, "text");
  
  
  tx.setAttribute("class", "t");
  tx.setAttribute("x", legendTextX[i]);
  tx.setAttribute("y", legendTextY[i]);
  tx.setAttribute("textLength", legendTextW[i]);
  tx.setAttribute("lengthAdjust", "spacingAndGlyphs");
  tx.textContent = name;
  legendRoot.appendChild(tx);
});
</script>
</svg>
</body>
</html>
